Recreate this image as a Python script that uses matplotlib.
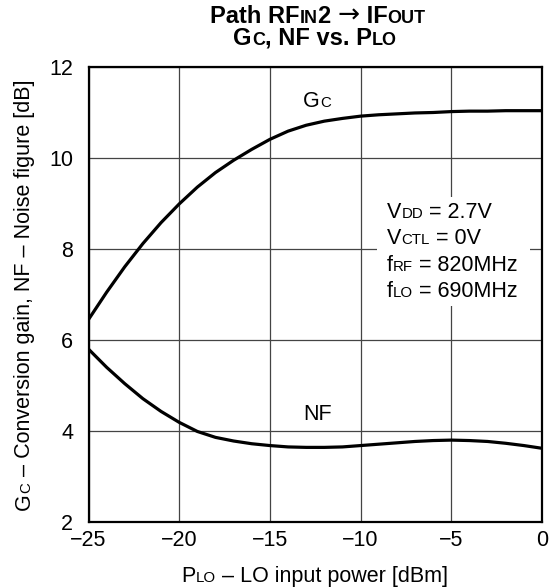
import numpy as np
import matplotlib
matplotlib.use("Agg")
import matplotlib.pyplot as plt
from matplotlib.patches import Rectangle
from matplotlib.transforms import ScaledTranslation

plt.rcParams['font.family'] = ['Liberation Sans', 'DejaVu Sans']

# LO input power [dBm]
p_lo = [-25, -24, -23, -22, -21, -20, -19, -18, -17, -16, -15, -14, -13,
        -12, -11, -10, -9, -8, -7, -6, -5, -4, -3, -2, -1, 0]
gc = [6.45, 7.05, 7.61, 8.12, 8.58, 8.99, 9.36, 9.68, 9.95, 10.19, 10.41,
      10.59, 10.72, 10.81, 10.87, 10.92, 10.95, 10.97, 10.99, 11.0, 11.02,
      11.03, 11.03, 11.04, 11.04, 11.04]
nf = [5.80, 5.40, 5.04, 4.71, 4.43, 4.19, 3.99, 3.86, 3.78, 3.72, 3.68, 3.65,
      3.64, 3.64, 3.65, 3.68, 3.71, 3.74, 3.77, 3.79, 3.80, 3.79, 3.77, 3.73,
      3.68, 3.62]

x_ticks = [-25, -20, -15, -10, -5, 0]
y_ticks = [2, 4, 6, 8, 10, 12]

BIG = 15.5
SMALL = 10.8
T_BIG = 17
T_SMALL = 13

fig = plt.figure(figsize=(5.53, 5.88), dpi=100)
ax = fig.add_axes([88.5 / 553, 1 - 522 / 588, 453.5 / 553, 455 / 588])
renderer = fig.canvas.get_renderer()


def text_width(s, kw):
    # width including spaces: measure between bars
    t1 = fig.text(0, 0, '|' + s + '|', **kw)
    t2 = fig.text(0, 0, '||', **kw)
    w = t1.get_window_extent(renderer).width - t2.get_window_extent(renderer).width
    t1.remove()
    t2.remove()
    return w


def rich(x, y, parts, transform, ha='left', rotation=0, **common):
    kws = []
    for p in parts:
        kw = dict(common)
        kw['fontsize'] = p[1]
        if len(p) > 2:
            kw.update(p[2])
        kws.append(kw)
    widths = [text_width(p[0], kw) for p, kw in zip(parts, kws)]
    off = -sum(widths) / 2 if ha == 'center' else 0
    c, s_ = np.cos(np.radians(rotation)), np.sin(np.radians(rotation))
    for p, kw, w in zip(parts, kws, widths):
        tr = transform + ScaledTranslation(off * c / fig.dpi, off * s_ / fig.dpi,
                                           fig.dpi_scale_trans)
        fig.text(x, y, p[0], transform=tr, ha='left', va='baseline',
                 rotation=rotation, rotation_mode='anchor', zorder=5, **kw)
        off += w


ax.plot(p_lo, gc, color='black', lw=2.3, zorder=4, solid_capstyle='butt')
ax.plot(p_lo, nf, color='black', lw=2.3, zorder=4, solid_capstyle='butt')

ax.set_xlim(-25, 0)
ax.set_ylim(2, 12)
ax.set_xticks(x_ticks)
ax.set_yticks(y_ticks)
ax.set_xticklabels([str(v).replace('-', '\u2212') for v in x_ticks])
ax.grid(True, color='#444444', lw=0.9)
ax.set_axisbelow(True)
ax.tick_params(length=0, labelsize=BIG)
ax.tick_params(axis='x', pad=6)
ax.tick_params(axis='y', pad=11)
for sp in ax.spines.values():
    sp.set_linewidth(1.6)

# white box behind the conditions
ax.add_patch(Rectangle((-9.1, 6.75), 8.45, 2.4, facecolor='white',
                       edgecolor='none', zorder=2))

rich(-8.55, 8.68, [('V', BIG), ('DD', SMALL), (' = 2.7V', BIG)], ax.transData)
rich(-8.55, 8.10, [('V', BIG), ('CTL', SMALL), (' = 0V', BIG)], ax.transData)
rich(-8.55, 7.52, [('f', BIG), ('RF', SMALL), (' = 820MHz', BIG)], ax.transData)
rich(-8.55, 6.94, [('f', BIG), ('LO', SMALL), (' = 690MHz', BIG)], ax.transData)

rich(-13.17, 11.13, [('G', BIG), ('C', SMALL)], ax.transData)
rich(-13.17, 4.24, [('NF', BIG)], ax.transData)

# title
arrow = {'fontweight': 'normal', 'family': 'DejaVu Sans', 'fontsize': 19}
rich(318 / 553, 1 - 22.7 / 588,
     [('Path RF', T_BIG), ('IN', T_SMALL), ('2 ', T_BIG), ('\u2192', T_BIG, arrow),
      (' IF', T_BIG), ('OUT', T_SMALL)],
     fig.transFigure, ha='center', fontweight='bold')
rich(315 / 553, 1 - 45 / 588,
     [('G', T_BIG), ('C', T_SMALL), (', NF vs. P', T_BIG), ('LO', T_SMALL)],
     fig.transFigure, ha='center', fontweight='bold')

# axis labels
rich(314.5 / 553, 1 - 582 / 588,
     [('P', BIG), ('LO', SMALL), (' \u2013 LO input power [dBm]', BIG)],
     fig.transFigure, ha='center')
rich(30 / 553, 1 - 294.5 / 588,
     [('G', BIG), ('C', SMALL), (' \u2013 Conversion gain, NF \u2013 Noise figure [dB]', BIG)],
     fig.transFigure, ha='center', rotation=90)

fig.savefig('out.png', dpi=100)
